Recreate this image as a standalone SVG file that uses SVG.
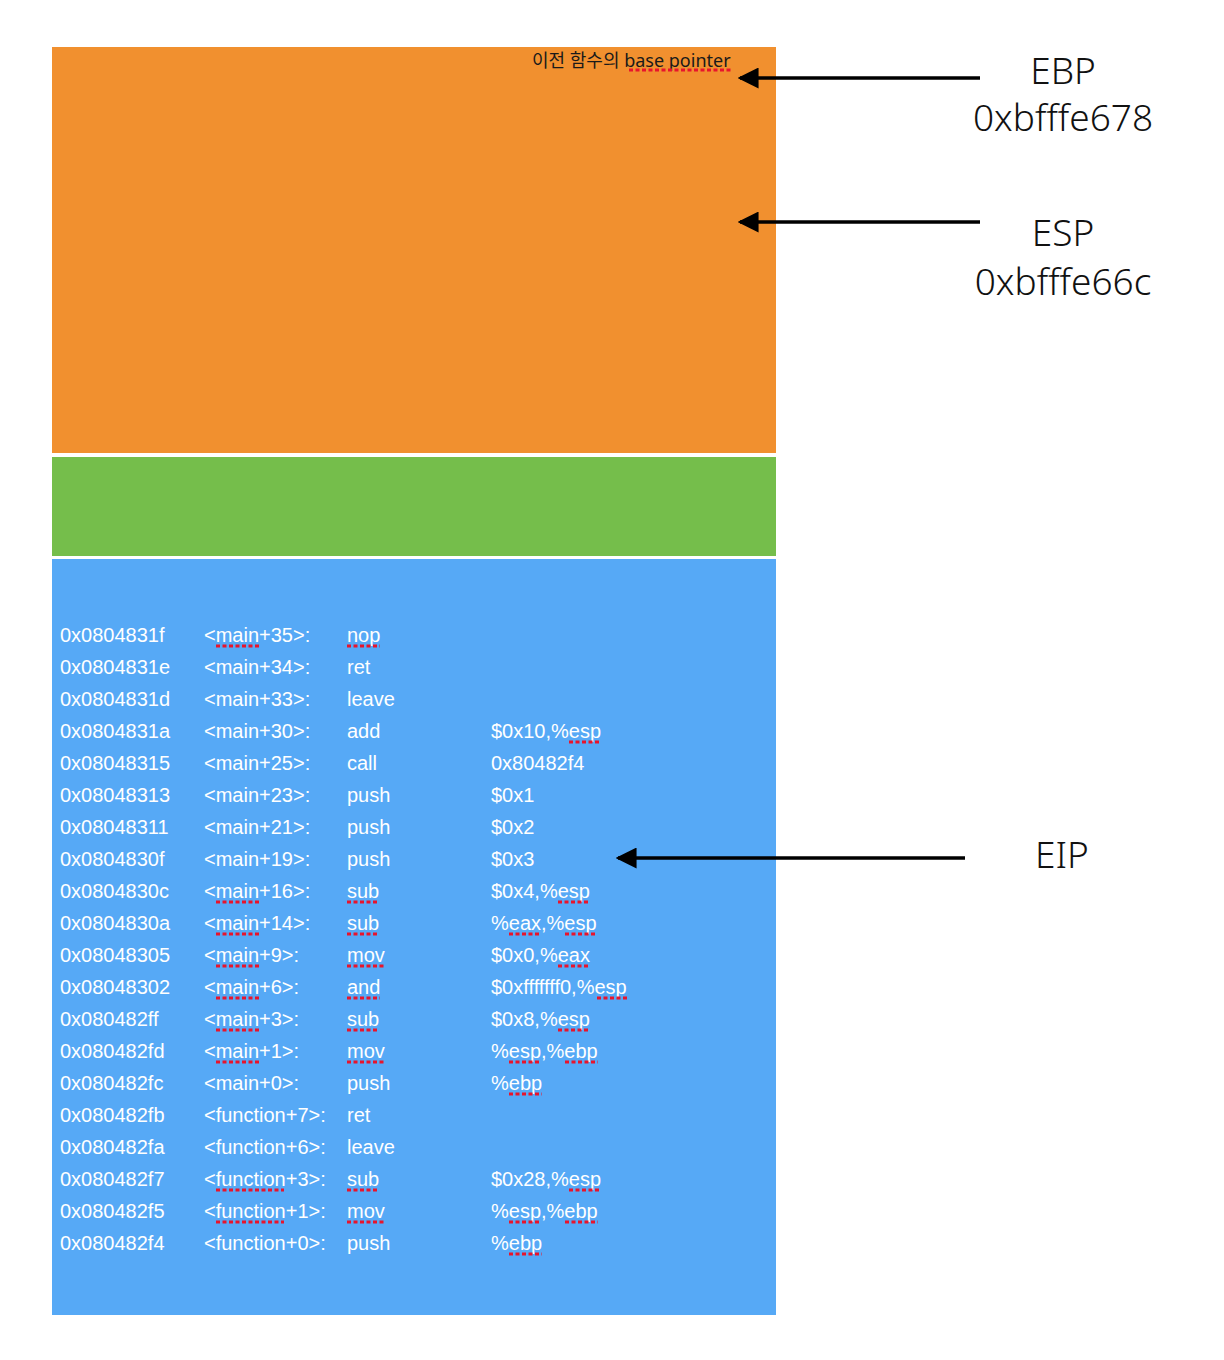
<svg xmlns="http://www.w3.org/2000/svg" width="1224" height="1360" viewBox="0 0 1224 1360">
<style>
.code{font-family:"Liberation Sans",Arial,sans-serif;font-size:20px;fill:#ffffff}
.reg{font-family:"Noto Sans",sans-serif;font-weight:300;font-size:37px;fill:#111111;text-anchor:middle}
.ko{font-family:"Noto Sans","Noto Sans CJK KR",sans-serif;font-size:18px;fill:#1a1a1a}
.sq{stroke:#e8142c;stroke-width:3;stroke-dasharray:4 2.5;fill:none}
.arr{stroke:#000;stroke-width:3.5;fill:none;marker-end:url(#ah)}
</style>
<defs>
<marker id="ah" markerWidth="6" markerHeight="6" refX="5.3" refY="3" orient="auto" markerUnits="strokeWidth" viewBox="0 0 6 6">
<path d="M0,0 L6,3 L0,6 Z" fill="#000"/>
</marker>
</defs>
<rect width="1224" height="1360" fill="#ffffff"/>
<g id="stack-frame-previous">
<rect x="52" y="47" width="724" height="406" fill="#F1902F"/>
<text class="ko" x="532" y="67">이전 함수의 base pointer</text>
<line class="sq" x1="629" y1="70" x2="733" y2="70"/>
</g>
<g id="stack-frame-green">
<rect x="52" y="457" width="724" height="99" fill="#75BE4B"/>
</g>
<g id="code-segment">
<rect x="52" y="559" width="724" height="756" fill="#56A9F6"/>
<g transform="translate(0,1)">
<g class="code">
<text x="60" y="641">0x0804831f</text><text x="204" y="641">&lt;main+35&gt;:</text><text x="347" y="641">nop</text>
<text x="60" y="673">0x0804831e</text><text x="204" y="673">&lt;main+34&gt;:</text><text x="347" y="673">ret</text>
<text x="60" y="705">0x0804831d</text><text x="204" y="705">&lt;main+33&gt;:</text><text x="347" y="705">leave</text>
<text x="60" y="737">0x0804831a</text><text x="204" y="737">&lt;main+30&gt;:</text><text x="347" y="737">add</text><text x="491" y="737">$0x10,%esp</text>
<text x="60" y="769">0x08048315</text><text x="204" y="769">&lt;main+25&gt;:</text><text x="347" y="769">call</text><text x="491" y="769">0x80482f4</text>
<text x="60" y="801">0x08048313</text><text x="204" y="801">&lt;main+23&gt;:</text><text x="347" y="801">push</text><text x="491" y="801">$0x1</text>
<text x="60" y="833">0x08048311</text><text x="204" y="833">&lt;main+21&gt;:</text><text x="347" y="833">push</text><text x="491" y="833">$0x2</text>
<text x="60" y="865">0x0804830f</text><text x="204" y="865">&lt;main+19&gt;:</text><text x="347" y="865">push</text><text x="491" y="865">$0x3</text>
<text x="60" y="897">0x0804830c</text><text x="204" y="897">&lt;main+16&gt;:</text><text x="347" y="897">sub</text><text x="491" y="897">$0x4,%esp</text>
<text x="60" y="929">0x0804830a</text><text x="204" y="929">&lt;main+14&gt;:</text><text x="347" y="929">sub</text><text x="491" y="929">%eax,%esp</text>
<text x="60" y="961">0x08048305</text><text x="204" y="961">&lt;main+9&gt;:</text><text x="347" y="961">mov</text><text x="491" y="961">$0x0,%eax</text>
<text x="60" y="993">0x08048302</text><text x="204" y="993">&lt;main+6&gt;:</text><text x="347" y="993">and</text><text x="491" y="993">$0xfffffff0,%esp</text>
<text x="60" y="1025">0x080482ff</text><text x="204" y="1025">&lt;main+3&gt;:</text><text x="347" y="1025">sub</text><text x="491" y="1025">$0x8,%esp</text>
<text x="60" y="1057">0x080482fd</text><text x="204" y="1057">&lt;main+1&gt;:</text><text x="347" y="1057">mov</text><text x="491" y="1057">%esp,%ebp</text>
<text x="60" y="1089">0x080482fc</text><text x="204" y="1089">&lt;main+0&gt;:</text><text x="347" y="1089">push</text><text x="491" y="1089">%ebp</text>
<text x="60" y="1121">0x080482fb</text><text x="204" y="1121">&lt;function+7&gt;:</text><text x="347" y="1121">ret</text>
<text x="60" y="1153">0x080482fa</text><text x="204" y="1153">&lt;function+6&gt;:</text><text x="347" y="1153">leave</text>
<text x="60" y="1185">0x080482f7</text><text x="204" y="1185">&lt;function+3&gt;:</text><text x="347" y="1185">sub</text><text x="491" y="1185">$0x28,%esp</text>
<text x="60" y="1217">0x080482f5</text><text x="204" y="1217">&lt;function+1&gt;:</text><text x="347" y="1217">mov</text><text x="491" y="1217">%esp,%ebp</text>
<text x="60" y="1249">0x080482f4</text><text x="204" y="1249">&lt;function+0&gt;:</text><text x="347" y="1249">push</text><text x="491" y="1249">%ebp</text>
</g>
<g id="spell-marks">
<line class="sq" x1="216" y1="645" x2="259" y2="645"/><line class="sq" x1="347" y1="645" x2="380" y2="645"/>
<line class="sq" x1="569" y1="741" x2="601" y2="741"/>
<line class="sq" x1="216" y1="901" x2="259" y2="901"/><line class="sq" x1="347" y1="901" x2="379" y2="901"/><line class="sq" x1="558" y1="901" x2="590" y2="901"/>
<line class="sq" x1="216" y1="933" x2="259" y2="933"/><line class="sq" x1="347" y1="933" x2="379" y2="933"/><line class="sq" x1="509" y1="933" x2="541" y2="933"/><line class="sq" x1="565" y1="933" x2="597" y2="933"/>
<line class="sq" x1="216" y1="965" x2="259" y2="965"/><line class="sq" x1="347" y1="965" x2="385" y2="965"/><line class="sq" x1="558" y1="965" x2="590" y2="965"/>
<line class="sq" x1="216" y1="997" x2="259" y2="997"/><line class="sq" x1="347" y1="997" x2="380" y2="997"/><line class="sq" x1="597" y1="997" x2="629" y2="997"/>
<line class="sq" x1="216" y1="1029" x2="259" y2="1029"/><line class="sq" x1="347" y1="1029" x2="379" y2="1029"/><line class="sq" x1="558" y1="1029" x2="590" y2="1029"/>
<line class="sq" x1="216" y1="1061" x2="259" y2="1061"/><line class="sq" x1="347" y1="1061" x2="385" y2="1061"/><line class="sq" x1="509" y1="1061" x2="541" y2="1061"/><line class="sq" x1="565" y1="1061" x2="598" y2="1061"/>
<line class="sq" x1="509" y1="1093" x2="542" y2="1093"/>
<line class="sq" x1="216" y1="1189" x2="284" y2="1189"/><line class="sq" x1="347" y1="1189" x2="379" y2="1189"/><line class="sq" x1="569" y1="1189" x2="601" y2="1189"/>
<line class="sq" x1="216" y1="1221" x2="284" y2="1221"/><line class="sq" x1="347" y1="1221" x2="385" y2="1221"/><line class="sq" x1="509" y1="1221" x2="541" y2="1221"/><line class="sq" x1="565" y1="1221" x2="598" y2="1221"/>
<line class="sq" x1="509" y1="1253" x2="542" y2="1253"/>
</g>
</g>
</g>
<g id="label-ebp">
<text class="reg" x="1063" y="84">EBP</text>
<text class="reg" x="1063" y="131">0xbfffe678</text>
</g>
<g id="label-esp">
<text class="reg" x="1063" y="246">ESP</text>
<text class="reg" x="1063" y="295">0xbfffe66c</text>
</g>
<g id="label-eip">
<text class="reg" x="1062" y="868">EIP</text>
</g>
<g id="connectors">
<line class="arr" x1="980" y1="78" x2="740" y2="78"/>
<line class="arr" x1="980" y1="222" x2="740" y2="222"/>
<line class="arr" x1="965" y1="858" x2="618" y2="858"/>
</g>
</svg>
